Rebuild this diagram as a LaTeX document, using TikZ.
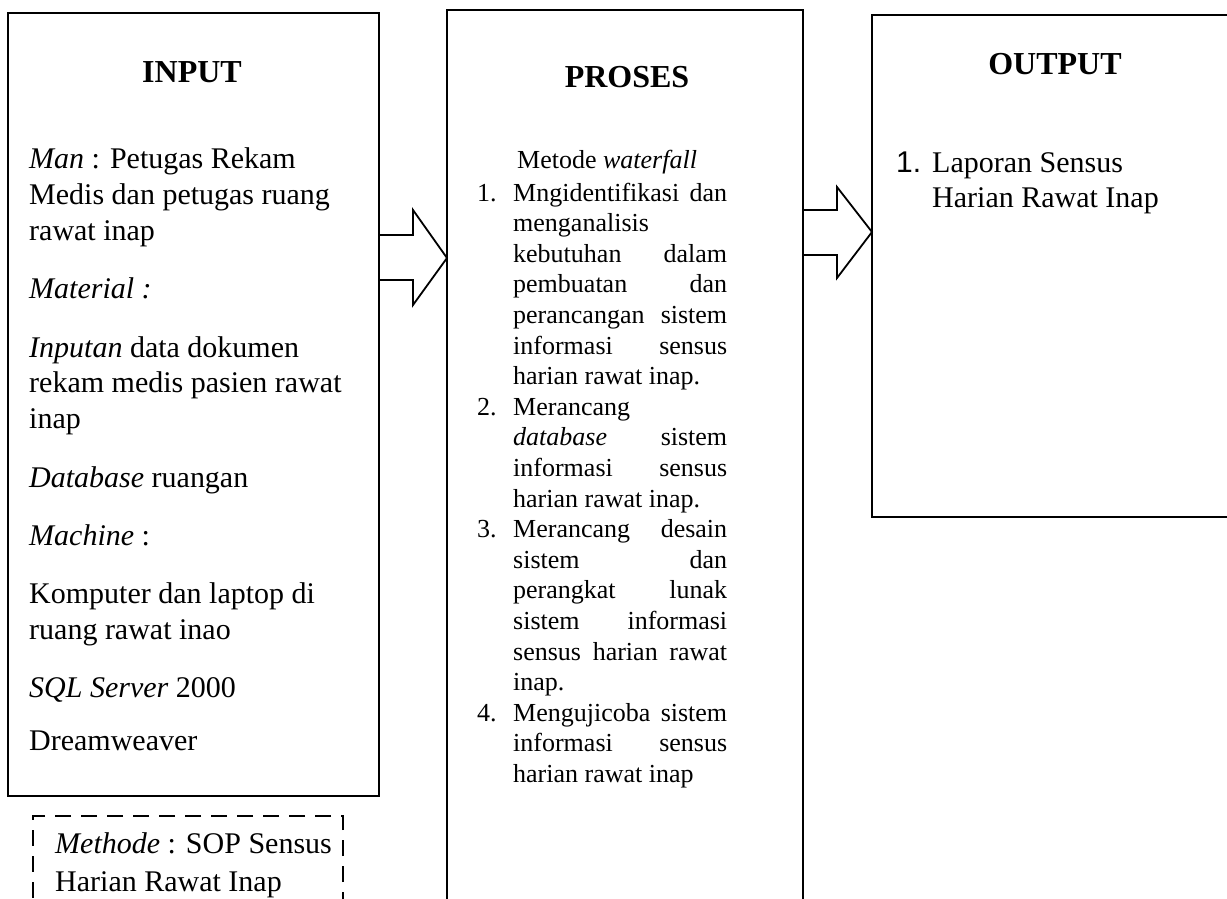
\documentclass[tikz,border=0pt]{standalone}
\usepackage{fontspec}
\setmainfont{Liberation Serif}
\newfontfamily\arialf{Liberation Sans}
\usetikzlibrary{calc}
\newcommand\jline[1]{\hbox to 214pt{#1}}
\begin{document}
\begin{tikzpicture}[x=1pt,y=-1pt,
  box/.style={draw, line width=2.5pt, rectangle, inner sep=0pt, outer sep=0pt, anchor=north west},
  dbox/.style={draw, line width=2.2pt, dash pattern=on 16pt off 10pt, rectangle, inner sep=0pt, outer sep=0pt, anchor=north west},
  blk/.style={draw, line width=1.8pt, line join=miter},
  txt/.style={anchor=base west, inner sep=0pt, font=\fontsize{30}{36}\selectfont},
  ptxt/.style={anchor=base west, inner sep=0pt, font=\fontsize{26}{30}\selectfont},
  ttl/.style={anchor=base, inner sep=0pt, font=\fontsize{32}{38}\selectfont\bfseries}]
\path[use as bounding box] (0,0) rectangle (1227,899);
\clip (0,0) rectangle (1227,899);

% boxes
\node[box, minimum width=371pt, minimum height=783pt] (inp) at (8,13) {};
\node[box, minimum width=356pt, minimum height=920pt] (pro) at (447,10) {};
\node[box, minimum width=372pt, minimum height=502pt] (out) at (872,15) {};
\node[dbox, minimum width=310pt, minimum height=120pt] (meth) at (33,816) {};

% block arrows
\draw[blk] ($(inp.north east)+(0,222)$) -- ++(34,0) -- ++(0,-25)
  -- ($(pro.north west)+(0,248)$) -- ++(-34,47) -- ++(0,-25)
  -- ($(inp.north east)+(0,267)$);
\draw[blk] ($(pro.north east)+(0,200)$) -- ++(34,0) -- ++(0,-23)
  -- ($(out.north west)+(0,217)$) -- ++(-35,46) -- ++(0,-23)
  -- ($(pro.north east)+(0,245)$);

% titles
\node[ttl] (tin) at (192,82) {INPUT};
\node[ttl] (tpr) at (627,88) {PROSES};
\node[ttl] (tou) at (1055,75) {OUTPUT};

% INPUT text
\node[txt] (i1) at (29,168) {\textit{Man} : Petugas Rekam};
\node[txt] (i2) at (29,204) {Medis dan petugas ruang};
\node[txt] (i3) at (29,240) {rawat inap};
\node[txt] (i4) at (29,298) {\textit{Material :}};
\node[txt] (i5) at (29,357) {\textit{Inputan} data dokumen};
\node[txt] (i6) at (29,392) {rekam medis pasien rawat};
\node[txt] (i7) at (29,428) {inap};
\node[txt] (i8) at (29,487) {\textit{Database} ruangan};
\node[txt] (i9) at (29,545) {\textit{Machine} :};
\node[txt] (i10) at (29,603) {Komputer dan laptop di};
\node[txt] (i11) at (29,639) {ruang rawat inao};
\node[txt] (i12) at (29,697) {\textit{SQL Server} 2000};
\node[txt] (i13) at (29,750) {Dreamweaver};

% Methode
\node[txt] (m1) at (55,853) {\textit{Methode} : SOP Sensus};
\node[txt] (m2) at (55,891) {Harian Rawat Inap};

% PROSES text
\node[ptxt] (p0) at (517,168) {Metode \textit{waterfall}};
\node[ptxt] (n1) at (477,201.0) {1.};
\node[ptxt] (p1) at (513,201.0) {\jline{Mngidentifikasi\hfill dan}};
\node[ptxt] (p2) at (513,231.6) {menganalisis};
\node[ptxt] (p3) at (513,262.2) {\jline{kebutuhan\hfill dalam}};
\node[ptxt] (p4) at (513,292.8) {\jline{pembuatan\hfill dan}};
\node[ptxt] (p5) at (513,323.4) {\jline{perancangan\hfill sistem}};
\node[ptxt] (p6) at (513,354.0) {\jline{informasi\hfill sensus}};
\node[ptxt] (p7) at (513,384.6) {harian rawat inap.};
\node[ptxt] (n2) at (477,415.2) {2.};
\node[ptxt] (p8) at (513,415.2) {Merancang};
\node[ptxt] (p9) at (513,445.8) {\jline{\textit{database}\hfill sistem}};
\node[ptxt] (p10) at (513,476.4) {\jline{informasi\hfill sensus}};
\node[ptxt] (p11) at (513,507.0) {harian rawat inap.};
\node[ptxt] (n3) at (477,537.6) {3.};
\node[ptxt] (p12) at (513,537.6) {\jline{Merancang\hfill desain}};
\node[ptxt] (p13) at (513,568.2) {\jline{sistem\hfill dan}};
\node[ptxt] (p14) at (513,598.8) {\jline{perangkat\hfill lunak}};
\node[ptxt] (p15) at (513,629.4) {\jline{sistem\hfill informasi}};
\node[ptxt] (p16) at (513,660.0) {\jline{sensus\hfill harian\hfill rawat}};
\node[ptxt] (p17) at (513,690.6) {inap.};
\node[ptxt] (n4) at (477,721.2) {4.};
\node[ptxt] (p18) at (513,721.2) {\jline{Mengujicoba\hfill sistem}};
\node[ptxt] (p19) at (513,751.8) {\jline{informasi\hfill sensus}};
\node[ptxt] (p20) at (513,782.4) {harian rawat inap};

% OUTPUT text
\node[txt] (o0) at (896,172) {\arialf 1.};
\node[txt] (o1) at (932,172) {Laporan Sensus};
\node[txt] (o2) at (932,207) {Harian Rawat Inap};
\end{tikzpicture}
\end{document}
